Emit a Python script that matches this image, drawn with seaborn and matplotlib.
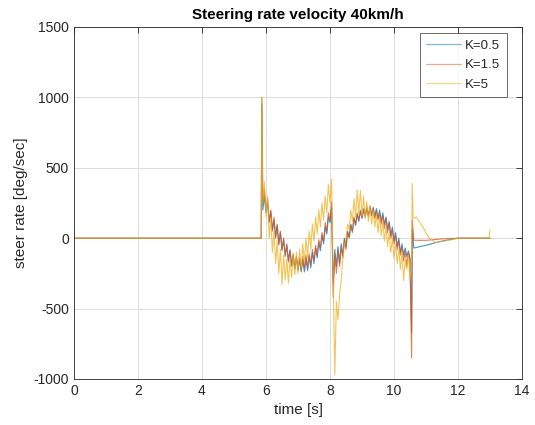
import matplotlib
matplotlib.use("Agg")
import matplotlib.pyplot as plt
import seaborn as sns
import pandas as pd

# ---- data ----
t_osc = [5.90, 5.95, 6.00, 6.05, 6.10, 6.15, 6.20, 6.25, 6.30, 6.35, 6.40, 6.45,
         6.50, 6.55, 6.60, 6.65, 6.70, 6.75, 6.80, 6.85, 6.90, 6.95, 7.00, 7.05,
         7.10, 7.15, 7.20, 7.25, 7.30, 7.35, 7.40, 7.45, 7.50, 7.55, 7.60, 7.65,
         7.70, 7.75, 7.80, 7.85, 7.90, 7.95, 8.00, 8.05, 8.10, 8.15, 8.20, 8.25,
         8.30, 8.35, 8.40, 8.45, 8.50, 8.55, 8.60, 8.65, 8.70, 8.75, 8.80, 8.85,
         8.90, 8.95, 9.00, 9.05, 9.10, 9.15, 9.20, 9.25, 9.30, 9.35, 9.40, 9.45,
         9.50, 9.55, 9.60, 9.65, 9.70, 9.75, 9.80, 9.85, 9.90, 9.95, 10.00, 10.05,
         10.10, 10.15, 10.20, 10.25, 10.30, 10.35, 10.40, 10.45, 10.50]

blue_osc = [200, 300, 180, 250, 120, 190, 60, 130, 10, 90, -40, 40,
            -80, -10, -120, -50, -160, -90, -190, -120, -220, -140, -230, -150,
            -240, -150, -240, -140, -230, -130, -210, -100, -180, -70, -140, -30,
            -90, 20, -40, 80, 30, 150, 110, 220, -320, -80, -200, -60,
            -180, -40, -120, 0, -60, 50, 10, 100, 50, 140, 90, 170,
            120, 190, 140, 210, 150, 220, 160, 220, 160, 220, 150, 210,
            140, 200, 120, 180, 100, 150, 60, 120, 20, 80, -20, 40,
            -60, 0, -100, -40, -120, -70, -130, -90, -140]

orange_osc = [260, 350, 200, 280, 110, 200, 50, 150, 0, 100, -50, 50,
              -90, 0, -130, -40, -170, -80, -200, -110, -210, -130, -220, -140,
              -230, -130, -220, -120, -210, -110, -190, -80, -160, -50, -120, -10,
              -70, 40, -20, 110, 50, 180, 130, 260, -420, -120, -250, -80,
              -200, -60, -140, -10, -80, 40, 0, 90, 40, 150, 100, 180,
              130, 200, 150, 200, 160, 210, 150, 230, 170, 210, 140, 200,
              130, 180, 100, 160, 70, 140, 40, 110, 0, 60, -40, 20,
              -80, -20, -120, -60, -160, -90, -200, -100, -160]

yellow_osc = [250, 400, 150, 300, 0, 150, -100, 50, -180, -20, -250, -80,
              -330, -120, -300, -150, -320, -150, -280, -120, -260, -100, -250, -80,
              -220, -40, -180, 0, -140, 50, -80, 100, -20, 150, 30, 200,
              80, 250, 130, 300, 180, 380, 250, 420, -300, -970, -450, -580,
              -400, -300, -150, -50, 0, 100, 60, 200, 120, 280, 150, 340,
              170, 340, 160, 300, 140, 260, 120, 230, 100, 200, 80, 170,
              40, 150, 20, 120, -20, 80, -60, 40, -100, 0, -140, -40,
              -180, -80, -220, -100, -300, -150, -220, -120, -300]

t_pre = [0.0, 5.85, 5.87]
blue_pre = [0, 0, 950]
orange_pre = [0, 0, 1000]
yellow_pre = [0, 0, 1000]

t_blue_post = [10.55, 10.57, 10.62, 11.0, 11.5, 12.0, 13.0]
blue_post = [-670, 60, -70, -50, -20, 0, 0]
t_orange_post = [10.55, 10.57, 10.62, 11.0, 11.5, 12.0, 13.0]
orange_post = [-850, 130, -15, -15, -5, 0, 0]
t_yellow_post = [10.55, 10.57, 10.60, 10.70, 10.90, 11.10, 11.30, 11.60, 12.0, 12.97, 13.0]
yellow_post = [-150, 390, 140, 150, 80, 0, -30, -20, 0, 0, 60]

labels = ["K=0.5", "K=1.5", "K=5"]
colors = ["#0072BD", "#D95319", "#EDB120"]

series = {
    "K=0.5": (t_pre + t_osc + t_blue_post, blue_pre + blue_osc + blue_post),
    "K=1.5": (t_pre + t_osc + t_orange_post, orange_pre + orange_osc + orange_post),
    "K=5": (t_pre + t_osc + t_yellow_post, yellow_pre + yellow_osc + yellow_post),
}

frames = []
for lab in labels:
    tt, vv = series[lab]
    frames.append(pd.DataFrame({"t": tt, "v": vv, "K": lab}))
df = pd.concat(frames, ignore_index=True)

# ---- plot ----
sns.set_style("white")
plt.rcParams["font.family"] = ["Liberation Sans", "DejaVu Sans"]
plt.rcParams["axes.unicode_minus"] = False

fig = plt.figure(figsize=(5.35, 4.25), dpi=100)
ax = fig.add_axes([74/535, 1-379/425, (522-74)/535, (379-27)/425])

sns.lineplot(data=df, x="t", y="v", hue="K", hue_order=labels, palette=colors,
             units="K", estimator=None, sort=False, linewidth=0.8, alpha=0.75,
             ax=ax, legend=True)

ax.set_xlim(0, 14)
ax.set_ylim(-1000, 1500)
ax.set_xticks(range(0, 15, 2))
ax.set_yticks(range(-1000, 1501, 500))
ax.grid(True, color="#dcdcdc", linewidth=0.7)
ax.set_axisbelow(True)
for s in ax.spines.values():
    s.set_color("#262626")
    s.set_linewidth(0.6)
ax.tick_params(direction="in", length=4, width=0.6, colors="#262626",
               labelsize=10, top=True, right=True, labelcolor="#262626")
ax.set_xlabel("time [s]", fontsize=11, color="#262626")
ax.set_ylabel("steer rate [deg/sec]", fontsize=11, color="#262626")
ax.set_title("Steering rate velocity 40km/h", fontsize=11, fontweight="bold", color="black")

leg = ax.legend(loc="upper right", bbox_to_anchor=(507/535, 1-33/425),
                bbox_transform=fig.transFigure, borderaxespad=0,
                fontsize=9.5, frameon=True, fancybox=False,
                edgecolor="#262626", handlelength=2.6,
                handletextpad=0.35, borderpad=0.5, labelspacing=0.55)
leg.get_frame().set_linewidth(0.6)
for line in leg.get_lines():
    line.set_linewidth(0.9)
    line.set_alpha(0.5)

fig.savefig("out.png", dpi=100)
